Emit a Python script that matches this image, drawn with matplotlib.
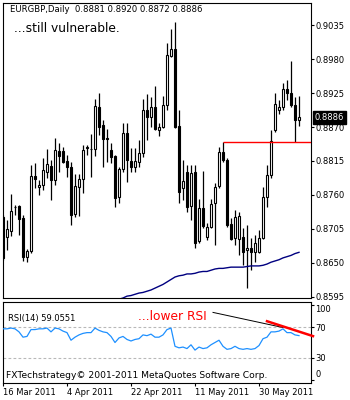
import numpy as np
import matplotlib
matplotlib.use("Agg")
import matplotlib.pyplot as plt
from matplotlib.transforms import blended_transform_factory

## ----- EURGBP DAILY BARS ------ ##

opens = [0.8724, 0.8692, 0.8701, 0.8740, 0.8742, 0.8722, 0.8659, 0.8669, 0.8790, 0.8773,
         0.8776, 0.8797, 0.8807, 0.8784, 0.8831, 0.8831, 0.8815, 0.8805, 0.8729, 0.8773,
         0.8786, 0.8836, 0.8834, 0.8834, 0.8902, 0.8873, 0.8853, 0.8833, 0.8823, 0.8756,
         0.8802, 0.8860, 0.8815, 0.8805, 0.8813, 0.8828, 0.8897, 0.8886, 0.8902, 0.8865,
         0.8870, 0.8905, 0.8985, 0.8996, 0.8871, 0.8771, 0.8797, 0.8742, 0.8797, 0.8685,
         0.8739, 0.8692, 0.8708, 0.8747, 0.8774, 0.8829, 0.8816, 0.8713, 0.8690, 0.8688,
         0.8692, 0.8670, 0.8674, 0.8667, 0.8667, 0.8690, 0.8756, 0.8792, 0.8865, 0.8897,
         0.8902, 0.8931, 0.8925, 0.8905, 0.8881]
highs = [0.8727, 0.8719, 0.8761, 0.8743, 0.8743, 0.8727, 0.8672, 0.8808, 0.8811, 0.8784,
         0.8820, 0.8834, 0.8816, 0.8852, 0.8844, 0.8837, 0.8824, 0.8813, 0.8794, 0.8794,
         0.8841, 0.8841, 0.8858, 0.8915, 0.8925, 0.8881, 0.8867, 0.8844, 0.8824, 0.8805,
         0.8876, 0.8876, 0.8836, 0.8836, 0.8849, 0.8915, 0.8923, 0.8918, 0.8936, 0.8876,
         0.8920, 0.9006, 0.9029, 0.9040, 0.8897, 0.8816, 0.8808, 0.8808, 0.8808, 0.8753,
         0.8798, 0.8714, 0.8753, 0.8779, 0.8837, 0.8845, 0.8820, 0.8722, 0.8735, 0.8732,
         0.8706, 0.8711, 0.8690, 0.8695, 0.8703, 0.8773, 0.8808, 0.8865, 0.8925, 0.8914,
         0.8941, 0.8946, 0.8977, 0.8918, 0.8920]
lows = [0.8654, 0.8670, 0.8693, 0.8727, 0.8695, 0.8653, 0.8651, 0.8666, 0.8771, 0.8760,
        0.8768, 0.8787, 0.8752, 0.8776, 0.8797, 0.8811, 0.8789, 0.8711, 0.8724, 0.8726,
        0.8763, 0.8824, 0.8789, 0.8823, 0.8857, 0.8805, 0.8813, 0.8811, 0.8740, 0.8747,
        0.8797, 0.8781, 0.8797, 0.8797, 0.8805, 0.8821, 0.8849, 0.8870, 0.8866, 0.8855,
        0.8868, 0.8897, 0.8983, 0.8868, 0.8747, 0.8752, 0.8732, 0.8719, 0.8674, 0.8682,
        0.8706, 0.8687, 0.8706, 0.8679, 0.8771, 0.8813, 0.8708, 0.8687, 0.8679, 0.8662,
        0.8646, 0.8609, 0.8638, 0.8651, 0.8666, 0.8688, 0.8740, 0.8787, 0.8862, 0.8891,
        0.8897, 0.8914, 0.8902, 0.8845, 0.8872]
closes = [0.8658, 0.8705, 0.8734, 0.8741, 0.8721, 0.8659, 0.8669, 0.8790, 0.8786, 0.8776,
          0.8800, 0.8810, 0.8784, 0.8833, 0.8823, 0.8813, 0.8805, 0.8727, 0.8774, 0.8786,
          0.8833, 0.8837, 0.8835, 0.8904, 0.8870, 0.8850, 0.8851, 0.8821, 0.8755, 0.8802,
          0.8860, 0.8816, 0.8805, 0.8815, 0.8828, 0.8897, 0.8886, 0.8902, 0.8867, 0.8870,
          0.8905, 0.8986, 0.8996, 0.8870, 0.8764, 0.8782, 0.8740, 0.8795, 0.8682, 0.8739,
          0.8709, 0.8708, 0.8745, 0.8773, 0.8829, 0.8816, 0.8711, 0.8688, 0.8724, 0.8726,
          0.8667, 0.8674, 0.8667, 0.8682, 0.8690, 0.8756, 0.8792, 0.8847, 0.8907, 0.8902,
          0.8931, 0.8925, 0.8905, 0.8881, 0.8886]

# long moving average, only the part that rises into view
ma_start = 28
ma_values = [0.8588, 0.8591, 0.8593, 0.8596, 0.8597, 0.8599, 0.8601, 0.8602, 0.8604, 0.8606,
             0.8609, 0.8612, 0.8615, 0.8619, 0.8623, 0.8627, 0.8629, 0.8630, 0.8632, 0.8632,
             0.8633, 0.8635, 0.8636, 0.8636, 0.8638, 0.8640, 0.8641, 0.8641, 0.8642, 0.8643,
             0.8643, 0.8643, 0.8643, 0.8644, 0.8645, 0.8645, 0.8645, 0.8646, 0.8648, 0.8651,
             0.8653, 0.8655, 0.8658, 0.8660, 0.8662, 0.8665, 0.8667]

rsi = [68, 68, 69, 68, 64, 57, 58, 67, 67, 68,
       68, 69, 64, 69, 68, 65, 63, 53, 57, 60,
       62, 63, 63, 69, 66, 64, 63, 58, 50, 56,
       58, 54, 52, 54, 55, 60, 59, 61, 57, 57,
       60, 67, 69, 45, 43, 44, 42, 47, 40, 44,
       42, 43, 47, 50, 53, 45, 41, 42, 45, 42,
       41, 42, 41, 42, 46, 55, 57, 64, 64, 65,
       68, 63, 63, 60, 59.0551]

price_ticks = [0.9035, 0.8980, 0.8925, 0.8870, 0.8815, 0.8760, 0.8705, 0.8650, 0.8595]
date_ticks = [0, 16, 32, 48, 64]
date_labels = ["16 Mar 2011", "4 Apr 2011", "22 Apr 2011", "11 May 2011", "30 May 2011"]

support_level = 0.8845
support_from = 55
rsi_line_black = ([52.5, 70], [89.6, 69.7])
rsi_line_red = ([66, 77.5], [78, 58.4])

## ----- FIGURE ------ ##

plt.rcParams['font.family'] = ['DejaVu Sans']
fig = plt.figure(figsize=(3.5, 4), dpi=100)
ax = fig.add_axes([2.5 / 350, 102 / 400, 308.5 / 350, 295 / 400])
rsi_ax = fig.add_axes([2.5 / 350, 17 / 400, 308.5 / 350, 81 / 400])

x = np.arange(len(closes))
o = np.array(opens)
c = np.array(closes)
up = c >= o

ax.vlines(x, lows, highs, color="black", lw=0.9, zorder=2)
ax.bar(x, np.abs(c - o), bottom=np.minimum(o, c), width=0.5,
       color=np.where(up, "white", "black"), edgecolor="black", linewidth=0.8, zorder=3)

ax.plot(np.arange(ma_start, ma_start + len(ma_values)), ma_values, color="#000080", lw=1.0, zorder=4)
ax.hlines(support_level, support_from, 77, color="#ff0000", lw=1.0, zorder=5)

ax.set_xlim(-0.125, 77)
ax.set_ylim(0.8593, 0.9071)
ax.yaxis.tick_right()
ax.set_yticks(price_ticks)
ax.set_yticklabels([f"{p:.4f}" for p in price_ticks])
ax.tick_params(axis="y", direction="out", length=2, width=0.8, pad=1, labelsize=6)
ax.set_xticks([])
for s in ax.spines.values():
    s.set_linewidth(0.8)

# last price box on the scale
trans = blended_transform_factory(ax.transAxes, ax.transData)
ax.text(1.012, closes[-1], f"{closes[-1]:.4f}", transform=trans, ha="left", va="center",
        fontsize=6, color="white", zorder=10,
        bbox=dict(facecolor="black", edgecolor="black", boxstyle="square,pad=0.25"))

ax.text(8 / 308.5, 1 - 7 / 295,
        f"EURGBP,Daily  {opens[-1]:.4f} {highs[-1]:.4f} {lows[-1]:.4f} {closes[-1]:.4f}",
        transform=ax.transAxes, ha="left", va="center", fontsize=6.1)
ax.text(11 / 308.5, 1 - 26 / 295, "...still vulnerable.", transform=ax.transAxes,
        ha="left", va="center", fontsize=8.8)

## ----- RSI PANEL ------ ##

rsi_ax.plot(x, rsi, color="#1e90ff", lw=0.9, zorder=3)
for lvl in (30, 70):
    rsi_ax.axhline(lvl, color="#b8b8b8", lw=0.8, linestyle=(0, (2.5, 2)), zorder=1)
rsi_ax.plot(*rsi_line_black, color="black", lw=0.7, zorder=4)
rsi_ax.plot(*rsi_line_red, color="#ff0000", lw=1.8, zorder=5, clip_on=False)

rsi_ax.set_xlim(-0.125, 77)
rsi_ax.set_ylim(-3.3, 103.3)
rsi_ax.yaxis.tick_right()
rsi_ax.set_yticks([0, 30, 70, 100])
rsi_ax.set_yticklabels(["", "30", "70", ""])
rsi_ax.tick_params(axis="y", direction="out", length=2, width=0.8, pad=1, labelsize=6)
rsi_trans = blended_transform_factory(rsi_ax.transAxes, rsi_ax.transData)
rsi_ax.text(1.0 + 4 / 308.5, 94, "100", transform=rsi_trans, ha="left", va="center", fontsize=6)
rsi_ax.text(1.0 + 4 / 308.5, 8, "0", transform=rsi_trans, ha="left", va="center", fontsize=6)

rsi_ax.set_xticks(date_ticks)
rsi_ax.set_xticklabels(date_labels, ha="left")
rsi_ax.tick_params(axis="x", direction="out", length=2.5, width=0.8, pad=1, labelsize=6)
for s in rsi_ax.spines.values():
    s.set_linewidth(0.8)

rsi_ax.text(5 / 308.5, 1 - 16.5 / 81, f"RSI(14) {rsi[-1]:.4f}", transform=rsi_ax.transAxes,
            ha="left", va="center", fontsize=6)
rsi_ax.text(136 / 308.5, 1 - 15 / 81, "...lower RSI", transform=rsi_ax.transAxes,
            ha="left", va="center", fontsize=8.8, color="#ff0000")
rsi_ax.text(3 / 308.5, 1 - 73 / 81, "FXTechstrategy\u00a9 2001-2011 MetaQuotes Software Corp.",
            transform=rsi_ax.transAxes, ha="left", va="center", fontsize=6.6)

fig.savefig("out.png", dpi=100)
